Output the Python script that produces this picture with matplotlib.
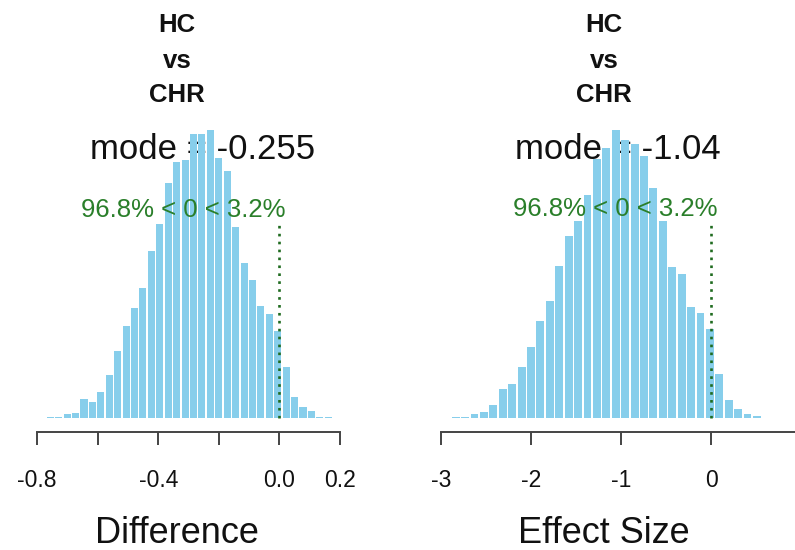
import matplotlib
matplotlib.use("Agg")
import matplotlib.pyplot as plt
import matplotlib.transforms as mtransforms
import numpy as np

plt.rcParams['font.family'] = ['Liberation Sans', 'DejaVu Sans']

# ---------------- data ----------------
title_lines = ["HC", "vs", "CHR"]

# Panel 1: Difference
diff_bin_start = -0.770
diff_bin_width = 0.0278
diff_freq = [1.3, 1.3, 3.7, 5.3, 19.3, 16.0, 25.7, 42.7, 66.7, 91.7, 109.7, 129.7,
             167.3, 193.7, 235.3, 256.3, 258.3, 284.0, 284.0, 287.7, 259.7, 246.7,
             190.7, 155.0, 138.3, 111.7, 104.3, 86.7, 50.7, 21.0, 10.7, 7.3, 1.3, 1.0]
diff_mode = -0.255
diff_ticks = [-0.8, -0.6, -0.4, -0.2, 0.0, 0.2]
diff_ticklabels = ["-0.8", "", "-0.4", "", "0.0", "0.2"]
diff_xlabel = "Difference"
diff_mode_label = "mode = -0.255"

# Panel 2: Effect size
es_bin_start = -2.889
es_bin_width = 0.1046
es_freq = [1.3, 1.3, 3.7, 6.0, 13.3, 29.3, 34.0, 50.7, 71.0, 96.7, 117.0, 152.0,
           182.3, 196.7, 223.3, 259.3, 270.0, 288.0, 277.7, 274.3, 262.0, 230.0,
           197.0, 151.0, 144.3, 111.0, 105.0, 89.3, 44.3, 17.7, 9.3, 4.3, 1.7]
es_mode = -1.04
es_ticks = [-3, -2, -1, 0, 1]
es_ticklabels = ["-3", "-2", "-1", "0", "1"]
es_xlabel = "Effect Size"
es_mode_label = "mode = -1.04"

comp_val = 0.0
pct_below = 96.8
pct_above = 3.2
comp_label = "96.8% < 0 < 3.2%"

# ---------------- figure ----------------
W, H = 795, 550
fig = plt.figure(figsize=(W / 100, H / 100), dpi=100)

def px_axes(x0, x1, ytop, ybot):
    return fig.add_axes([x0 / W, (H - ybot) / H, (x1 - x0) / W, (ybot - ytop) / H])

bar_color = "#87CEEB"
text_green = "#2a7f2a"
line_green = "#1f6b1f"
axis_color = "#444444"

def panel(ax, start, width, freq, mode, mode_label, ticks, ticklabels, xlabel, xlim):
    freq = np.asarray(freq)
    lefts = start + width * np.arange(len(freq))
    ax.bar(lefts + 0.08 * width, np.maximum(freq, 1.2), width=0.84 * width, align='edge',
           color=bar_color, linewidth=0, zorder=2)
    ax.set_xlim(*xlim)
    ax.set_ylim(-14, 318)
    for s in ['top', 'right', 'left']:
        ax.spines[s].set_visible(False)
    ax.spines['bottom'].set_bounds(ticks[0], ticks[-1])
    ax.spines['bottom'].set_color(axis_color)
    ax.spines['bottom'].set_linewidth(1.4)
    ax.set_yticks([])
    ax.set_xticks(ticks)
    ax.set_xticklabels(ticklabels)
    ax.tick_params(axis='x', direction='out', length=9.5, width=1.4, color=axis_color,
                   labelsize=16.5, pad=17, labelcolor='#111111')
    fmax = freq.max()
    # mode text (drawn beneath bars as in reference)
    ax.text(mode, 0.9 * fmax, mode_label, ha='center', va='baseline',
            fontsize=25, color='#111111', zorder=1)
    # comparison value line and text
    cv_ht = 0.7 * fmax
    ax.plot([comp_val, comp_val], [0, 0.96 * cv_ht], linestyle=(0, (1, 2.0)),
            linewidth=1.9, color=line_green, zorder=3)
    t = ax.text(comp_val, cv_ht, comp_label, ha='left', va='baseline',
                fontsize=18.5, color=text_green, zorder=4)
    fig.canvas.draw()
    wpx = t.get_window_extent().width
    off = mtransforms.ScaledTranslation(-pct_below / 100 * wpx / fig.dpi, 0, fig.dpi_scale_trans)
    t.set_transform(ax.transData + off)
    # titles and xlabel
    blend = mtransforms.blended_transform_factory(ax.transAxes, fig.transFigure)
    for line, yb in zip(title_lines, [32.5, 67.5, 102.5]):
        ax.text(0.5, (H - yb) / H, line, transform=blend, ha='center', va='baseline',
                fontsize=18.5, fontweight='bold', color='#111111')
    ax.text(0.5, 7 / H, xlabel, transform=blend, ha='center', va='baseline',
            fontsize=26, color='#111111')

# left panel: -0.8 at px 37, 303 px per unit
ax1 = px_axes(37 - 0.08 * 303, 37 + 1.004 * 303, 100, 432)
panel(ax1, diff_bin_start, diff_bin_width, diff_freq, diff_mode, diff_mode_label,
      diff_ticks, diff_ticklabels, diff_xlabel, (-0.88, 0.204))

# right panel: -3 at px 441, 90 px per unit
ax2 = px_axes(441 - 0.6 * 90, 441 + 4.222 * 90, 100, 432)
panel(ax2, es_bin_start, es_bin_width, es_freq, es_mode, es_mode_label,
      es_ticks, es_ticklabels, es_xlabel, (-3.6, 1.222))

fig.savefig("out.png", dpi=100)
